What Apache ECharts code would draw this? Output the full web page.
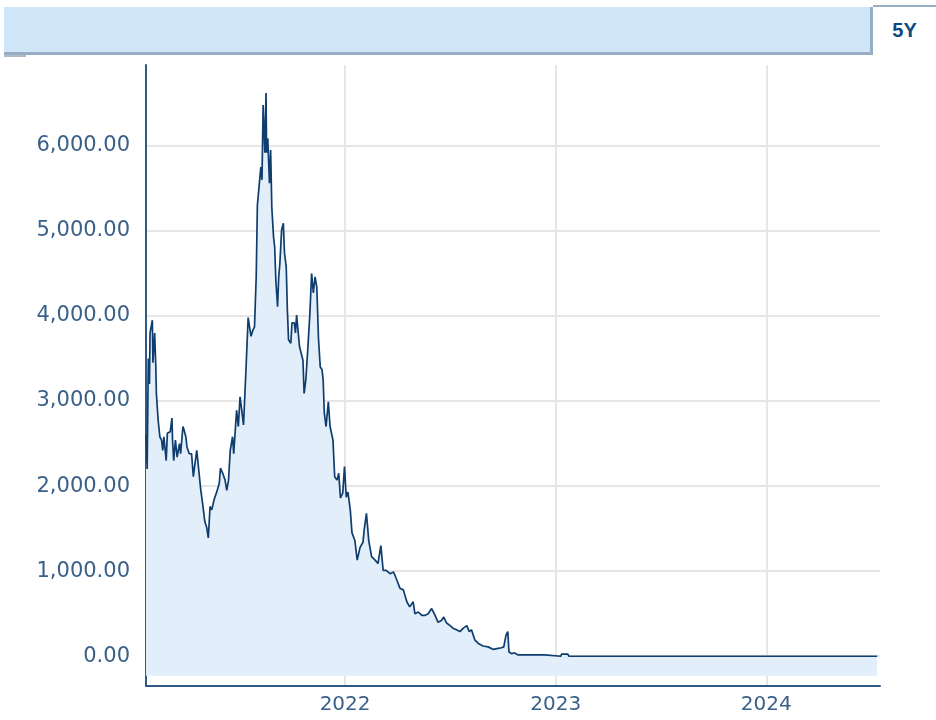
<!DOCTYPE html>
<html>
<head>
<meta charset="utf-8">
<script src="https://cdn.jsdelivr.net/npm/echarts@6/dist/echarts.min.js"></script>
<style>
  body { margin: 0; background: #fff; }
  #wrap { position: relative; width: 936px; height: 720px; overflow: hidden; }
  #chart { position: absolute; left: 0; top: 0; width: 936px; height: 720px; }
  #bar { position: absolute; left: 4px; top: 7px; width: 866px; height: 45px; background: #cfe5f8;
         border-right: 3px solid #98adc4; border-bottom: 3px solid #98adc4; }
  #bar-foot { position: absolute; left: 4px; top: 55px; width: 22px; height: 2px; background: #aebccb; }
  #tab { position: absolute; left: 873px; top: 5px; width: 63px; height: 48px; border-top: 2px solid #98adc4;
         background: #fff; font: bold 20px "Liberation Sans", Arial, sans-serif; color: #0d4a7f;
         text-align: center; line-height: 47px; }
</style>
</head>
<body>
<div id="wrap">
  <div id="chart"></div>
  <div id="bar"></div>
  <div id="bar-foot"></div>
  <div id="tab">5Y</div>
</div>
<script>
// price history
const dates = [
  '2021-01-21','2021-01-23','2021-01-25','2021-01-27','2021-01-28','2021-02-01','2021-02-02','2021-02-05',
  '2021-02-07','2021-02-08','2021-02-11','2021-02-14','2021-02-17','2021-02-19','2021-02-21','2021-02-25',
  '2021-02-27','2021-03-04','2021-03-07','2021-03-08','2021-03-10','2021-03-13','2021-03-16','2021-03-20',
  '2021-03-22','2021-03-26','2021-03-28','2021-03-31','2021-04-02','2021-04-06','2021-04-10','2021-04-13',
  '2021-04-16','2021-04-19','2021-04-22','2021-04-23','2021-04-26','2021-04-29','2021-05-03','2021-05-06',
  '2021-05-09','2021-05-12','2021-05-15','2021-05-19','2021-05-23','2021-05-28','2021-05-30','2021-06-03',
  '2021-06-07','2021-06-10','2021-06-13','2021-06-16','2021-06-20','2021-06-22','2021-06-27','2021-06-30',
  '2021-07-03','2021-07-06','2021-07-09','2021-07-13','2021-07-17','2021-07-22','2021-07-25','2021-07-28',
  '2021-07-31','2021-08-02','2021-08-05','2021-08-08','2021-08-10','2021-08-12','2021-08-15','2021-08-17',
  '2021-08-18','2021-08-20','2021-08-23','2021-08-25','2021-08-27','2021-08-30','2021-09-01','2021-09-03',
  '2021-09-06','2021-09-08','2021-09-10','2021-09-13','2021-09-16','2021-09-18','2021-09-21','2021-09-23',
  '2021-09-25','2021-09-29','2021-10-01','2021-10-05','2021-10-07','2021-10-09','2021-10-12','2021-10-14',
  '2021-10-17','2021-10-20','2021-10-22','2021-10-25','2021-10-27','2021-10-29','2021-11-01','2021-11-04',
  '2021-11-07','2021-11-10','2021-11-13','2021-11-16','2021-11-19','2021-11-22','2021-11-24','2021-11-26',
  '2021-11-29','2021-12-03','2021-12-06','2021-12-11','2021-12-14','2021-12-18','2021-12-21','2021-12-24',
  '2021-12-28','2021-12-31',
  '2022-01-03','2022-01-06','2022-01-10','2022-01-13','2022-01-18','2022-01-22','2022-01-27','2022-02-01',
  '2022-02-03','2022-02-07','2022-02-11','2022-02-16','2022-02-22','2022-02-27','2022-03-04','2022-03-08',
  '2022-03-13','2022-03-20','2022-03-26','2022-04-01','2022-04-06','2022-04-12','2022-04-18','2022-04-23',
  '2022-04-29','2022-05-02','2022-05-08','2022-05-14','2022-05-19','2022-05-25','2022-05-31','2022-06-06',
  '2022-06-11','2022-06-17','2022-06-21','2022-06-26','2022-07-02','2022-07-07','2022-07-13','2022-07-19',
  '2022-07-25','2022-07-31','2022-08-04','2022-08-08','2022-08-14','2022-08-20','2022-08-28','2022-09-06',
  '2022-09-15','2022-09-21','2022-09-29','2022-10-03','2022-10-07','2022-10-10','2022-10-12','2022-10-17',
  '2022-10-21','2022-10-28','2022-12-13','2022-12-16',
  '2023-01-10','2023-01-11','2023-01-22','2023-01-24','2023-04-01','2023-07-01','2023-10-01',
  '2024-01-01','2024-04-01','2024-07-11'
];
const prices = [
  2600,2200,3500,3200,3800,3950,3450,3800,
  3400,3090,2780,2580,2540,2420,2580,2300,
  2620,2640,2800,2540,2300,2540,2340,2500,
  2380,2700,2660,2580,2460,2380,2380,2110,
  2270,2420,2440,2150,1950,1800,1580,1520,
  1390,1760,1720,1840,1920,2030,2210,2150,
  2070,1950,2070,2420,2580,2380,2890,2700,
  3050,3070,2720,3330,3980,3760,3830,3870,
  4460,5300,5280,5750,5600,6480,5920,6620,
  5920,6090,5560,5950,5280,4930,4810,4420,
  4110,4460,4620,5010,5090,4740,4580,4070,
  3720,3680,3920,3920,3800,4010,3990,3640,
  3640,3480,3090,3250,3250,3680,4030,4500,
  4270,4460,4340,3720,3400,3370,3250,2860,
  2700,2990,2700,2540,2110,2070,2150,1860,
  1920,2230,
  1870,1930,1720,1450,1360,1130,1280,1340,
  1480,1680,1360,1170,1130,1090,1300,1010,
  1010,970,990,890,800,780,640,580,
  640,500,520,480,480,500,560,480,
  400,420,460,390,360,330,310,290,
  330,360,290,310,190,150,120,110,
  80,90,100,110,250,290,50,30,
  40,15,15,0,
  0,25,25,0,0,0,0,
  0,0,0
];
const yTicks = [0, 1000, 2000, 3000, 4000, 5000, 6000];
const yearTicks = ['2022', '2023', '2024'];

const toTime = s => { const p = s.split('-').map(Number); return Date.UTC(p[0], (p[1] || 1) - 1, p[2] || 1); };
const seriesData = dates.map((d, i) => [toTime(d), prices[i]]);
const yearTimes = yearTicks.map(toTime);

const chart = echarts.init(document.getElementById('chart'));
const labelColor = '#3a6089';
const gridColor = '#e6e6e6';
const axisColor = '#2f5a86';

chart.setOption({
  animation: false,
  grid: { left: 146, right: 56, top: 65, bottom: 34 },
  xAxis: {
    type: 'value',
    min: toTime('2021-01-21'),
    max: toTime('2024-07-16'),
    axisLine: { show: true, onZero: false, lineStyle: { color: axisColor, width: 2 } },
    axisTick: { show: false, customValues: yearTimes },
    splitLine: { show: true, lineStyle: { color: gridColor, width: 2 } },
    axisLabel: {
      customValues: yearTimes,
      formatter: v => String(new Date(v).getUTCFullYear()),
      color: labelColor,
      fontFamily: 'DejaVu Sans',
      fontSize: 20,
      margin: 9
    }
  },
  yAxis: {
    type: 'value',
    min: -350,
    max: 6950,
    axisLine: { show: true, onZero: false, lineStyle: { color: axisColor, width: 2 } },
    axisTick: { show: false, customValues: yTicks },
    splitLine: { show: true, lineStyle: { color: gridColor, width: 2 } },
    axisLabel: {
      customValues: yTicks,
      formatter: v => v.toLocaleString('en-US', { minimumFractionDigits: 2, maximumFractionDigits: 2 }),
      color: labelColor,
      fontFamily: 'DejaVu Sans',
      fontSize: 21,
      margin: 16
    }
  },
  series: [{
    type: 'line',
    data: seriesData,
    showSymbol: false,
    lineStyle: { color: '#0f3d6d', width: 1.7 },
    areaStyle: { color: '#e2eef9', opacity: 1, origin: -230 }
  }]
});
</script>
</body>
</html>
